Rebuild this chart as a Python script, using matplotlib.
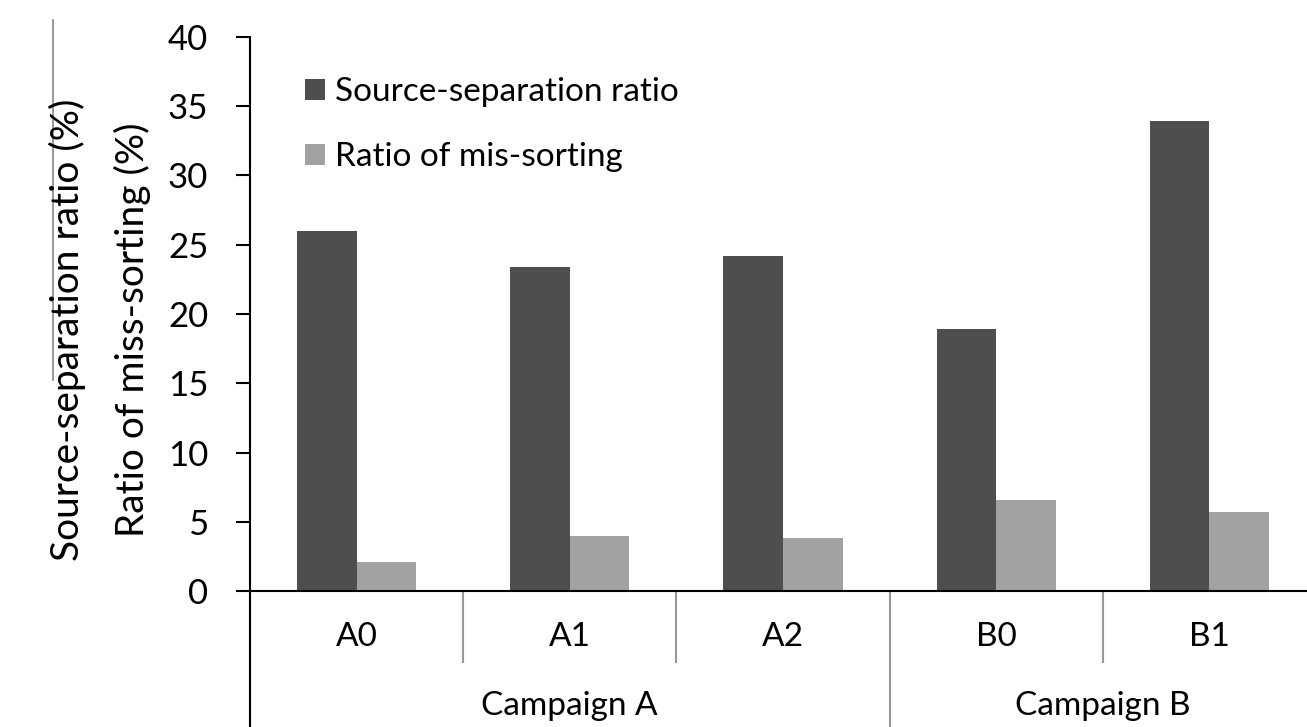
import matplotlib.pyplot as plt
import numpy as np

categories = ["A0", "A1", "A2", "B0", "B1"]
groups = ["Campaign A", "Campaign B"]
group_spans = [(0, 2), (3, 4)]
source_sep = [26.0, 23.4, 24.2, 18.9, 33.9]
mis_sorting = [2.1, 4.0, 3.8, 6.6, 5.7]

plt.rcParams["font.family"] = ["Lato", "DejaVu Sans"]

W, H = 1307, 727
fig = plt.figure(figsize=(W / 100, H / 100), dpi=100)
ax = fig.add_axes([250 / W, 1 - 591 / H, (1316 - 250) / W, (591 - 37) / H])

x = np.arange(len(categories))
bw = 0.28
ax.bar(x - bw / 2, source_sep, bw, color="#4e4e4e", label="Source-separation ratio")
ax.bar(x + bw / 2, mis_sorting, bw, color="#a2a2a2", label="Ratio of mis-sorting")

ax.set_xlim(-0.5, len(categories) - 0.5)
ax.set_ylim(0, 40)
ax.set_yticks(range(0, 45, 5))
ax.tick_params(axis="y", length=10, width=1.5, direction="out", labelsize=25, pad=20, colors="black")
ax.set_xticks([])
for s in ["top", "right"]:
    ax.spines[s].set_visible(False)
ax.spines["left"].set_linewidth(1.5)
ax.spines["bottom"].set_linewidth(1.5)

# extend the y axis line down through the category area
bottom = -(H - 591) / 554
ax.plot([0, 0], [0, bottom], transform=ax.transAxes, color="black", lw=1.5, clip_on=False)

tr = ax.get_xaxis_transform()
short = -(662 - 591) / 554
for i in range(len(categories) - 1):
    pos = i + 0.5
    ends_group = any(pos == g[1] + 0.5 for g in group_spans)
    ax.plot([pos, pos], [0, bottom if ends_group else short], transform=tr,
            color="#999999", lw=1.5, clip_on=False)

for i, c in enumerate(categories):
    ax.text(i, -(637 - 591) / 554, c, transform=tr, ha="center", va="center", fontsize=24)
for g, (a, b) in zip(groups, group_spans):
    ax.text((a + b) / 2, -(706 - 591) / 554, g, transform=tr, ha="center", va="center", fontsize=24)

ax.legend(loc="upper left", bbox_to_anchor=(0.036, 0.957), frameon=False, fontsize=24,
          handlelength=0.6, handleheight=0.6, handletextpad=0.3, labelspacing=1.05, borderpad=0)

fig.text(100 / W, 1 - 330 / H, "Source-separation ratio (%)\nRatio of miss-sorting (%)",
         rotation=90, ha="center", va="center", fontsize=28, linespacing=1.95)
fig.add_artist(plt.Line2D([53 / W, 53 / W], [1 - 20 / H, 1 - 380 / H], color="#888888", lw=1.2))

fig.savefig("out.png", dpi=100)
